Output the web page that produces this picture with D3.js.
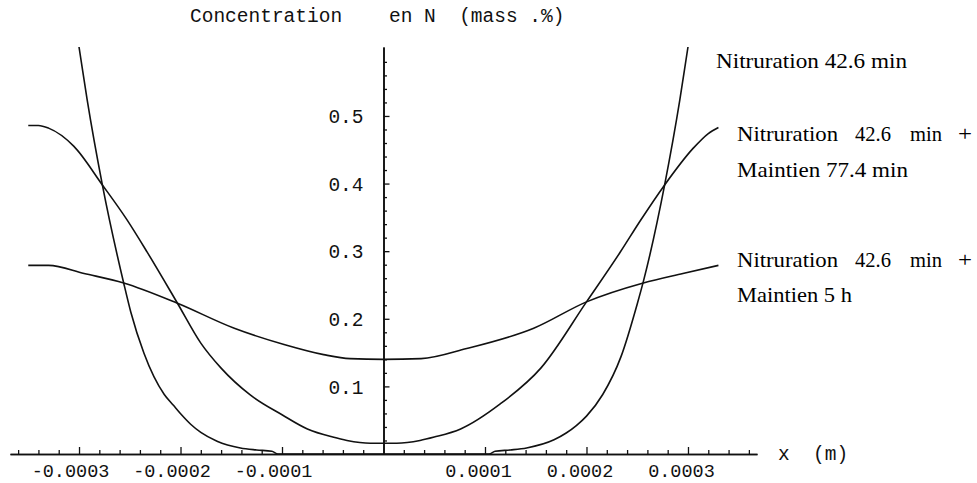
<!DOCTYPE html>
<html><head><meta charset="utf-8">
<script src="https://cdn.jsdelivr.net/npm/d3@7"></script>
<style>html,body{margin:0;padding:0;background:#fff;} svg{display:block;}</style>
</head><body><svg id="c" width="977" height="483"></svg>
<script>
// ---- data (x in metres, concentration in mass %) ----
const xNitr = [-0.00035,-0.00032,-0.0003,-0.000292,-0.000277,-0.000256,-0.000249,-0.000236,-0.000216,-0.000207,-0.000199,-0.00019,-0.00018,-0.000164,-0.000141,-0.000125,-0.00011,-0.000104,-0.00005,0,0.00005,0.000104,0.00011,0.000125,0.000141,0.000168,0.00018,0.00019,0.0002,0.000216,0.000234,0.00025,0.000256,0.000277,0.000292,0.0003,0.00032,0.00035];
const yNitr = [1.10,0.78,0.602,0.524,0.398,0.253,0.210,0.149,0.088,0.072,0.058,0.044,0.032,0.019,0.009,0.006,0.004,0,0,0,0,0,0.004,0.006,0.009,0.021,0.031,0.042,0.056,0.088,0.144,0.222,0.255,0.398,0.524,0.602,0.78,1.10];

const xMaint77 = [-0.00035,-0.00034,-0.00033,-0.000305,-0.000277,-0.000253,-0.000233,-0.000203,-0.00018,-0.00016,-0.000131,-0.0001,-0.000075,-0.00005,-0.000036,-0.000013,0.000013,0.000036,0.00005,0.000076,0.000115,0.000155,0.0002,0.000233,0.000253,0.000277,0.000305,0.00032,0.00033];
const yMaint77 = [0.486,0.486,0.482,0.455,0.398,0.347,0.299,0.223,0.164,0.127,0.087,0.058,0.037,0.025,0.020,0.016,0.016,0.020,0.025,0.037,0.074,0.127,0.225,0.298,0.345,0.398,0.452,0.474,0.483];

const xMaint5h = [-0.00035,-0.00033,-0.000295,-0.000256,-0.000203,-0.000147,-0.000098,-0.000059,-0.000033,0,0.000037,0.000082,0.000148,0.0002,0.000256,0.000295,0.00033];
const yMaint5h = [0.279,0.279,0.267,0.253,0.223,0.186,0.162,0.147,0.141,0.140,0.141,0.156,0.186,0.225,0.253,0.267,0.279];

const xMajorTicks = [-0.0003,-0.0002,-0.0001,0.0001,0.0002,0.0003];
const xTickLabels = ["-0.0003","-0.0002","-0.0001","0.0001","0.0002","0.0003"];
const yMajorTicks = [0.1,0.2,0.3,0.4,0.5];
const yTickLabels = ["0.1","0.2","0.3","0.4","0.5"];

const titleText = "Concentration    en N  (mass .%)";
const xAxisTitle = "x  (m)";
const legend1 = ["Nitruration 42.6 min"];
const legend2 = [["Nitruration","42.6","min","+"],["Maintien 77.4 min"]];
const legend3 = [["Nitruration","42.6","min","+"],["Maintien 5 h"]];

// ---- layout ----
const svg = d3.select("#c");
const x = d3.scaleLinear().domain([-0.000368, 0.000368]).range([10, 757]);
const y = d3.scaleLinear().domain([0, 0.602]).range([454, 47]);
const ink = "#111";
const mono = "'Liberation Mono','DejaVu Sans Mono',monospace";
const serif = "'Liberation Serif','Times New Roman',serif";

svg.append("defs").append("clipPath").attr("id","plotclip")
  .append("rect").attr("x",0).attr("y",y(0.602)).attr("width",977).attr("height",483);

// minor ticks
const xMinor = d3.range(-18,19).filter(i => i !== 0 && i % 5 !== 0).map(i => i*0.00002);
const yMinor = d3.range(1,30).filter(i => i % 5 !== 0).map(i => i*0.02);

const xAxisG = svg.append("g").attr("transform",`translate(0,${y(0)})`);
xAxisG.call(d3.axisBottom(x).tickValues(xMinor).tickSizeInner(-4).tickSizeOuter(0).tickFormat(""));
const xMaj = svg.append("g").attr("transform",`translate(0,${y(0)})`)
  .call(d3.axisBottom(x).tickValues(xMajorTicks).tickSizeInner(-7).tickSizeOuter(0).tickPadding(10)
    .tickFormat((d,i) => xTickLabels[i]));
xMaj.selectAll("text").attr("font-family",mono).attr("font-size",18.5).attr("fill",ink)
  .attr("dx", d => d < 0 ? -9 : -7);

const yAxisG = svg.append("g").attr("transform",`translate(${x(0)},0)`);
yAxisG.call(d3.axisLeft(y).tickValues(yMinor).tickSizeInner(-3.5).tickSizeOuter(0).tickFormat(""));
const yMaj = svg.append("g").attr("transform",`translate(${x(0)},0)`)
  .call(d3.axisLeft(y).tickValues(yMajorTicks).tickSizeInner(-6).tickSizeOuter(0).tickPadding(20)
    .tickFormat((d,i) => yTickLabels[i]));
yMaj.selectAll("text").attr("font-family",mono).attr("font-size",19.5).attr("fill",ink).attr("dy","0.34em");

svg.selectAll(".domain").attr("stroke",ink).attr("stroke-width",1.6);
svg.selectAll(".tick line").attr("stroke",ink).attr("stroke-width",1.3);

// curves
const line = d3.line().x(d => x(d[0])).y(d => y(d[1])).curve(d3.curveMonotoneX);
const series = [d3.zip(xNitr,yNitr), d3.zip(xMaint77,yMaint77), d3.zip(xMaint5h,yMaint5h)];
svg.append("g").attr("clip-path","url(#plotclip)")
  .selectAll("path").data(series).join("path")
  .attr("d", line).attr("fill","none").attr("stroke",ink).attr("stroke-width",1.6);

// titles
svg.append("text").attr("x",190).attr("y",22).attr("xml:space","preserve").style("white-space","pre")
  .attr("font-family",mono).attr("font-size",19.5).attr("fill",ink).text(titleText);
svg.append("text").attr("x",778).attr("y",460).attr("xml:space","preserve").style("white-space","pre")
  .attr("font-family",mono).attr("font-size",19.5).attr("fill",ink).text(xAxisTitle);

// legends
const lg = svg.append("g").attr("font-family",serif).attr("font-size",21).attr("fill","#000");
lg.append("text").attr("x",716).attr("y",68).attr("textLength",191).attr("lengthAdjust","spacingAndGlyphs").text(legend1[0]);
const wordX = [737, 855, 910, 958];
const wordW = [101, 36, 32, 14];
[[legend2,141,177,171],[legend3,267,302,115]].forEach(([lgd, y1, y2, w2]) => {
  lgd[0].forEach((w,i) => lg.append("text").attr("x",wordX[i]).attr("y",y1)
    .attr("textLength",wordW[i]).attr("lengthAdjust","spacingAndGlyphs").text(w));
  lg.append("text").attr("x",737).attr("y",y2).attr("textLength",w2).attr("lengthAdjust","spacingAndGlyphs").text(lgd[1]);
});
</script></body></html>
